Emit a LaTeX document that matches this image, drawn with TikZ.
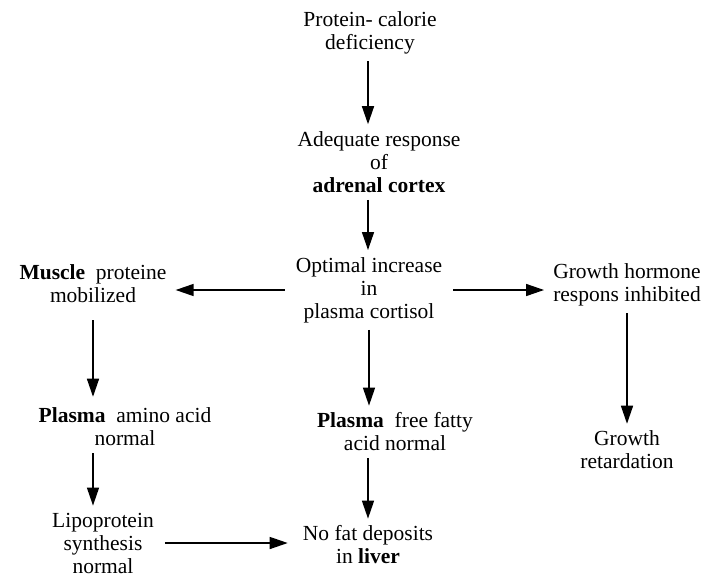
\documentclass[tikz,border=0pt]{standalone}
\usepackage{fontspec}
\setmainfont{Liberation Serif}
\usetikzlibrary{arrows.meta}
\begin{document}
\begin{tikzpicture}[x=1pt,y=-1pt]
\tikzset{
    txt/.style={align=center, inner sep=7pt, font=\fontsize{21.5}{23}\selectfont},
    arr/.style={-{Triangle[length=18pt,width=12pt]}, line width=1.4pt}
}
\useasboundingbox (0,0) rectangle (720,587);
\node[txt] (prot)  at (370,33)  {Protein- calorie\\deficiency};
\node[txt] (adeq)  at (379,162) {Adequate response\\of\\\textbf{adrenal cortex}};
\node[txt] (opt)   at (369,290) {Optimal increase\\in\\plasma cortisol};
\node[txt] (musc)  at (93,284)  {\textbf{Muscle}\ \ proteine\\mobilized};
\node[txt] (gh)    at (627,285) {Growth hormone\\respons inhibited};
\node[txt] (aa)    at (125,427) {\textbf{Plasma}\ \ amino acid\\normal};
\node[txt] (lipo)  at (103,543) {Lipoprotein\\synthesis\\normal};
\node[txt] (ffa)   at (395,432) {\textbf{Plasma}\ \ free fatty\\acid normal};
\node[txt] (nofat) at (368,545) {No fat deposits\\in \textbf{liver}};
\node[txt] (gr)    at (627,450) {Growth\\retardation};
% down the middle
\draw[arr] ([xshift=-2pt]prot.south) -- ([xshift=-2pt]prot.south |- adeq.north);
\draw[arr] ([xshift=-11pt]adeq.south) -- ([xshift=-11pt]adeq.south |- opt.north);
\draw[arr] (opt.south) -- (opt.south |- ffa.north);
\draw[arr] ([xshift=-27pt]ffa.south) -- ([xshift=-27pt]ffa.south |- nofat.north);
% sides
\draw[arr] ([xshift=-4pt]opt.west) -- ([xshift=2pt]opt.west -| musc.east);
\draw[arr] ([xshift=4pt]opt.east) -- ([xshift=-2pt]opt.east -| gh.west);
\draw[arr] ([yshift=-10pt]musc.south) -- ([yshift=4pt]musc.south |- aa.north);
\draw[arr] ([xshift=-32pt]aa.south) -- ([xshift=-32pt]aa.south |- lipo.north);
\draw[arr] (gh.south) -- (gh.south |- gr.north);
\draw[arr] ([xshift=4pt]lipo.east) -- ([xshift=-8pt]lipo.east -| nofat.west);
\end{tikzpicture}
\end{document}
